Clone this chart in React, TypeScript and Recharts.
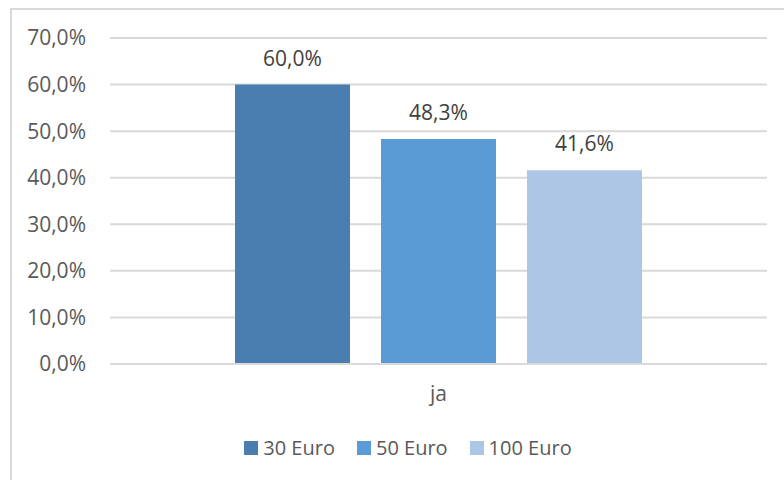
import { BarChart, Bar, XAxis, YAxis, CartesianGrid, Legend, LabelList } from "recharts";

const categories = ["ja"];
const euro30 = [60.0];
const euro50 = [48.3];
const euro100 = [41.6];
const yTicks = [0, 10, 20, 30, 40, 50, 60, 70];

const series = [
  { key: "e30", name: "30 Euro", color: "#4a7eb0" },
  { key: "e50", name: "50 Euro", color: "#5b9bd5" },
  { key: "e100", name: "100 Euro", color: "#adc6e6" },
];

const data = categories.map((name, i) => ({
  name,
  e30: euro30[i],
  e50: euro50[i],
  e100: euro100[i],
}));

const fmt = (v: number) => v.toFixed(1).replace(".", ",") + "%";
const font = "'Open Sans', sans-serif";
const textColor = "#595959";

function LegendBox() {
  return (
    <div style={{ display: "flex", justifyContent: "center", gap: 22, fontSize: 20, color: textColor }}>
      {series.map((s) => (
        <div key={s.key} style={{ display: "flex", alignItems: "center", gap: 5 }}>
          <span style={{ width: 14, height: 14, background: s.color, display: "inline-block" }} />
          <span>{s.name}</span>
        </div>
      ))}
    </div>
  );
}

export default function App() {
  return (
    <div style={{ position: "absolute", left: 0, top: 0, width: 784, height: 480, overflow: "hidden", background: "#fff" }}>
      <div
        style={{
          position: "absolute",
          left: 10,
          top: 8,
          width: 800,
          height: 500,
          borderLeft: "2px solid #d9d9d9",
          borderTop: "2px solid #d9d9d9",
        }}
      />
      <BarChart
        width={784}
        height={480}
        data={data}
        margin={{ top: 38, right: 17, bottom: 39, left: 0 }}
        barSize={115}
        barGap={31}
        style={{ fontFamily: font, position: "absolute", left: 0, top: 0 }}
      >
        <CartesianGrid vertical={false} stroke="#d9d9d9" strokeWidth={2} />
        <XAxis
          dataKey="name"
          axisLine={{ stroke: "#d9d9d9", strokeWidth: 2 }}
          tickLine={false}
          tickSize={0}
          tickMargin={22}
          height={50}
          tick={{ fill: textColor, fontSize: 21 }}
        />
        <YAxis
          width={110}
          domain={[0, 70]}
          ticks={yTicks}
          tickFormatter={fmt}
          axisLine={false}
          tickLine={false}
          tickSize={0}
          tickMargin={24}
          tick={{ fill: textColor, fontSize: 21 }}
        />
        <Legend content={<LegendBox />} wrapperStyle={{ left: 0, width: 816, top: 434 }} />
        {series.map((s) => (
          <Bar key={s.key} dataKey={s.key} name={s.name} fill={s.color} isAnimationActive={false}>
            <LabelList dataKey={s.key} position="top" offset={19} formatter={fmt} fill="#404040" fontSize={21} />
          </Bar>
        ))}
      </BarChart>
    </div>
  );
}
